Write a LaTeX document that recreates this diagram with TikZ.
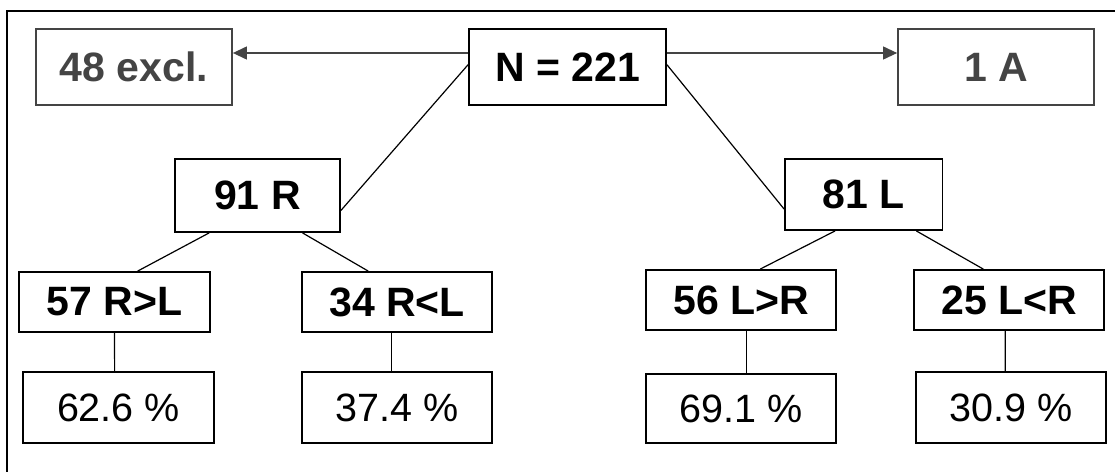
\documentclass[tikz,border=0pt]{standalone}
\usepackage{fontspec}
\setmainfont{Liberation Sans}
\usetikzlibrary{calc,arrows.meta}
\definecolor{dgray}{HTML}{444444}
\tikzset{
  box/.style={draw=black, line width=1.8pt, inner sep=0pt, text=black,
    font=\fontsize{41}{44}\selectfont\bfseries},
  graybox/.style={box, draw=dgray, text=dgray},
  pbox/.style={box, font=\fontsize{39.5}{44}\selectfont},
  conn/.style={draw=black, line width=1.2pt},
  garrow/.style={draw=dgray, line width=1.2pt, -{Triangle[length=14pt,width=13pt]}},
  frame/.style={draw=black, line width=2pt}
}
\begin{document}
\begin{tikzpicture}[x=1pt,y=-1pt]
\useasboundingbox[fill=white] (0,0) rectangle (1115,472);
\draw[frame] (1115,10.5) -- (7,10.5) -- (7,472);
% top row
\node[graybox, minimum width=196pt, minimum height=76pt] (excl) at (134,67) {48 excl.};
\node[box, minimum width=197pt, minimum height=76pt] (N) at (567.5,67) {N = 221};
\node[graybox, minimum width=196pt, minimum height=76pt] (A) at (996,67) {1 A};
% second row
\node[box, minimum width=165pt, minimum height=73pt] (R91) at (257.5,195.5) {91 R};
\node[box, minimum width=157.5pt, minimum height=71pt] (L81) at (863.75,194.5) {81 L};
% third row
\node[box, minimum width=191pt, minimum height=60pt] (RgL) at (114.5,302) {57 R>L};
\node[box, minimum width=190pt, minimum height=60pt] (RlL) at (397,302) {34 R<L};
\node[box, minimum width=190pt, minimum height=60pt] (LgR) at (741,300) {56 L>R};
\node[box, minimum width=190pt, minimum height=60pt] (LlR) at (1009,300) {25 L<R};
% percentages
\node[pbox, minimum width=191pt, minimum height=71pt] (p1) at (118.5,407.5) {62.6 \%};
\node[pbox, minimum width=190pt, minimum height=71pt] (p2) at (397,407.5) {37.4 \%};
\node[pbox, minimum width=190pt, minimum height=69pt] (p3) at (741,408.5) {69.1 \%};
\node[pbox, minimum width=190pt, minimum height=71pt] (p4) at (1011,407.5) {30.9 \%};
% arrows
\draw[garrow] ($(N.north west)!0.32!(N.south west)$) -- ($(excl.north east)!0.32!(excl.south east)$);
\draw[garrow] ($(N.north east)!0.32!(N.south east)$) -- ($(A.north west)!0.32!(A.south west)$);
% connectors
\draw[conn] ($(N.north west)!0.47!(N.south west)$) -- ($(R91.south east)!0.3!(R91.north east)$);
\draw[conn] ($(N.north east)!0.47!(N.south east)$) -- ($(L81.south west)!0.3!(L81.north west)$);
\draw[conn] ($(R91.south west)!0.21!(R91.south east)$) -- ($(RgL.north west)!0.62!(RgL.north east)$);
\draw[conn] ($(R91.south west)!0.77!(R91.south east)$) -- ($(RlL.north west)!0.35!(RlL.north east)$);
\draw[conn] ($(L81.south west)!0.32!(L81.south east)$) -- ($(LgR.north west)!0.60!(LgR.north east)$);
\draw[conn] ($(L81.south west)!0.83!(L81.south east)$) -- ($(LlR.north west)!0.366!(LlR.north east)$);
\draw[conn] (RgL.south) -- ($(p1.north west)!0.48!(p1.north east)$);
\draw[conn] ($(RlL.south west)!0.47!(RlL.south east)$) -- ($(p2.north west)!0.47!(p2.north east)$);
\draw[conn] ($(LgR.south west)!0.53!(LgR.south east)$) -- ($(p3.north west)!0.53!(p3.north east)$);
\draw[conn] ($(LlR.south west)!0.48!(LlR.south east)$) -- ($(p4.north west)!0.47!(p4.north east)$);
\end{tikzpicture}
\end{document}
